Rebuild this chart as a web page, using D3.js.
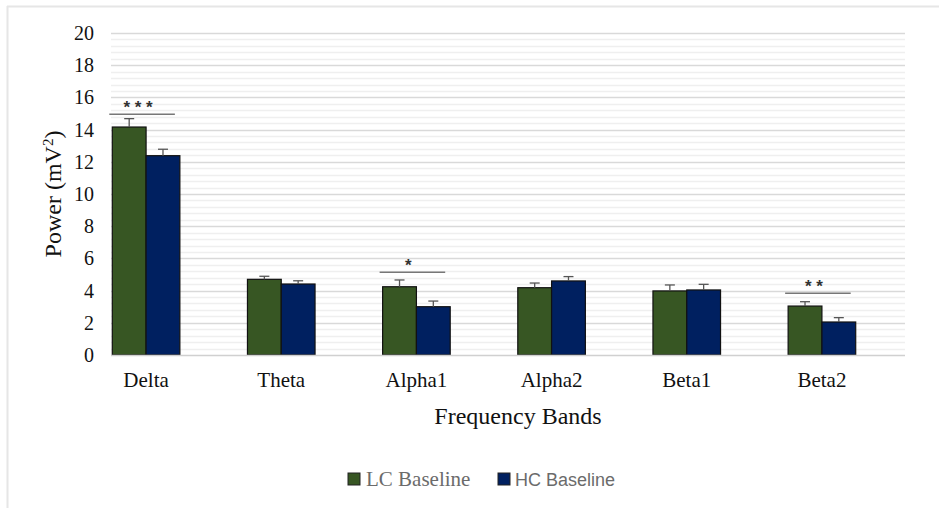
<!DOCTYPE html>
<html>
<head>
<meta charset="utf-8">
<script src="https://cdn.jsdelivr.net/npm/d3@7/dist/d3.min.js"></script>
<style>
  html, body { margin: 0; padding: 0; background: #fff; }
  svg { display: block; }
</style>
</head>
<body>
<svg id="chart" width="939" height="510"></svg>
<script>
// Spectral power per frequency band (mean ± SEM)
const bands = ["Delta", "Theta", "Alpha1", "Alpha2", "Beta1", "Beta2"];
const seriesNames = ["LC Baseline", "HC Baseline"];
const lcValues = [14.16, 4.70, 4.24, 4.18, 3.98, 3.04];
const lcErrors = [0.52, 0.19, 0.42, 0.29, 0.37, 0.27];
const hcValues = [12.38, 4.41, 3.00, 4.60, 4.04, 2.05];
const hcErrors = [0.40, 0.20, 0.35, 0.27, 0.35, 0.27];
const yTicks = [0, 2, 4, 6, 8, 10, 12, 14, 16, 18, 20];
// Significance markers: band, bracket height, label
const sigBands = ["Delta", "Alpha1", "Beta2"];
const sigLevels = [14.95, 5.14, 3.83];
const sigLabels = ["* * *", "*", "* *"];

const colors = ["#375623", "#002060"];
const serif = "'Liberation Serif', 'Times New Roman', serif";
const sans = "'Liberation Sans', Arial, sans-serif";

const svg = d3.select("#chart");

// frame lines along top and left edge
svg.append("line").attr("x1", 7).attr("x2", 939).attr("y1", 6.5).attr("y2", 6.5)
  .attr("stroke", "#e6e6e6").attr("stroke-width", 2);
svg.append("line").attr("x1", 7.5).attr("x2", 7.5).attr("y1", 6).attr("y2", 508)
  .attr("stroke", "#e6e6e6").attr("stroke-width", 2);

const plotLeft = 111, plotRight = 905;
const y = d3.scaleLinear().domain([0, 20]).range([355, 33]);
const x0 = d3.scaleBand().domain(bands).range([78.5, 889.5]).paddingInner(0.5).paddingOuter(0.25);
const x1 = d3.scaleBand().domain(seriesNames).range([0, x0.bandwidth()]);

// minor gridlines every 0.4
const minor = d3.range(0, 20.001, 0.4).filter(v => Math.abs(v / 2 - Math.round(v / 2)) > 1e-6);
svg.append("g").selectAll("line").data(minor).join("line")
  .attr("x1", plotLeft).attr("x2", plotRight)
  .attr("y1", d => Math.round(y(d)) + 0.5).attr("y2", d => Math.round(y(d)) + 0.5)
  .attr("stroke", "#efefef").attr("stroke-width", 1.5);
// major gridlines
svg.append("g").selectAll("line").data(yTicks.filter(v => v > 0)).join("line")
  .attr("x1", plotLeft).attr("x2", plotRight)
  .attr("y1", d => Math.round(y(d)) + 0.5).attr("y2", d => Math.round(y(d)) + 0.5)
  .attr("stroke", "#d9d9d9").attr("stroke-width", 1.5);

// y axis labels
const yAxis = d3.axisLeft(y).tickValues(yTicks).tickSize(0).tickPadding(0);
const yg = svg.append("g").attr("transform", "translate(94,0)").call(yAxis);
yg.select(".domain").remove();
yg.selectAll("text").attr("font-family", serif).attr("font-size", 20).attr("fill", "#111");

// bars
const data = bands.map((b, i) => ({
  band: b,
  vals: [
    { s: seriesNames[0], v: lcValues[i], e: lcErrors[i], c: colors[0] },
    { s: seriesNames[1], v: hcValues[i], e: hcErrors[i], c: colors[1] }
  ]
}));

const groups = svg.append("g").selectAll("g").data(data).join("g")
  .attr("transform", d => `translate(${x0(d.band)},0)`);

groups.selectAll("rect").data(d => d.vals).join("rect")
  .attr("x", d => x1(d.s))
  .attr("y", d => y(d.v))
  .attr("width", x1.bandwidth())
  .attr("height", d => y(0) - y(d.v))
  .attr("fill", d => d.c)
  .attr("stroke", "#111")
  .attr("stroke-width", 1.2);

// error bars (upper only)
const eb = groups.selectAll("g.err").data(d => d.vals).join("g").attr("class", "err");
eb.append("line")
  .attr("x1", d => x1(d.s) + x1.bandwidth() / 2).attr("x2", d => x1(d.s) + x1.bandwidth() / 2)
  .attr("y1", d => y(d.v)).attr("y2", d => y(d.v + d.e))
  .attr("stroke", "#555").attr("stroke-width", 1.3);
eb.append("line")
  .attr("x1", d => x1(d.s) + x1.bandwidth() / 2 - 5).attr("x2", d => x1(d.s) + x1.bandwidth() / 2 + 5)
  .attr("y1", d => y(d.v + d.e)).attr("y2", d => y(d.v + d.e))
  .attr("stroke", "#555").attr("stroke-width", 1.3);

// x axis baseline
svg.append("line").attr("x1", plotLeft).attr("x2", plotRight)
  .attr("y1", y(0) + 0.5).attr("y2", y(0) + 0.5)
  .attr("stroke", "#d0d0d0").attr("stroke-width", 1.5);

// category labels
const xAxis = d3.axisBottom(x0).tickSize(0).tickPadding(0);
const xg = svg.append("g").attr("transform", `translate(0,${y(0) + 17})`).call(xAxis);
xg.select(".domain").remove();
xg.selectAll("text").attr("font-family", serif).attr("font-size", 21).attr("fill", "#111")
  .attr("dy", "0.71em");

// significance brackets
sigBands.forEach((b, i) => {
  const left = x0(b) - 3;
  const right = x0(b) + x0.bandwidth() - 5;
  const yy = y(sigLevels[i]);
  svg.append("line").attr("x1", left).attr("x2", right).attr("y1", yy).attr("y2", yy)
    .attr("stroke", "#777").attr("stroke-width", 1.5);
  svg.append("text").attr("x", (left + right) / 2 - 4).attr("y", yy - 1)
    .attr("text-anchor", "middle")
    .attr("font-family", sans).attr("font-size", 17).attr("font-weight", "bold")
    .attr("fill", "#333").attr("xml:space", "preserve").text(sigLabels[i]);
});

// axis titles
svg.append("text")
  .attr("transform", `translate(61,194) rotate(-90)`)
  .attr("text-anchor", "middle")
  .attr("font-family", serif).attr("font-size", 24).attr("fill", "#111")
  .html("Power (mV<tspan baseline-shift='super' font-size='15'>2</tspan>)");

svg.append("text").attr("x", 518).attr("y", 424)
  .attr("text-anchor", "middle")
  .attr("font-family", serif).attr("font-size", 24).attr("fill", "#111")
  .text("Frequency Bands");

// legend
const legendItems = [
  { name: seriesNames[0], c: colors[0], x: 348, font: serif, size: 21 },
  { name: seriesNames[1], c: colors[1], x: 498, font: sans, size: 18 }
];
const lg = svg.append("g").selectAll("g").data(legendItems).join("g")
  .attr("transform", d => `translate(${d.x},473)`);
lg.append("rect").attr("width", 12).attr("height", 12)
  .attr("fill", d => d.c).attr("stroke", "#222").attr("stroke-width", 1);
lg.append("text").attr("x", d => d.font === serif ? 18 : 17).attr("y", 13)
  .attr("font-family", d => d.font).attr("font-size", d => d.size).attr("fill", "#6b6b6b")
  .text(d => d.name);
</script>
</body>
</html>
